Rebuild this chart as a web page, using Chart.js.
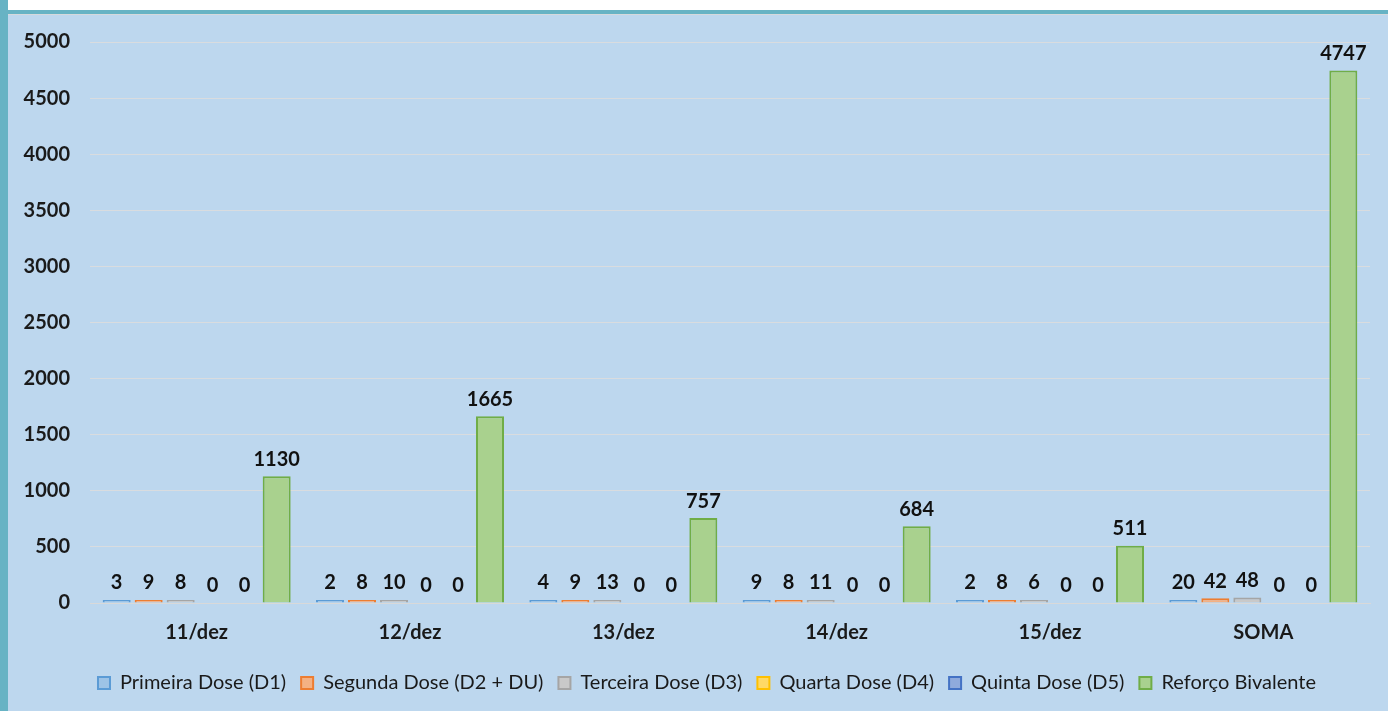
<!DOCTYPE html>
<html>
<head>
<meta charset="utf-8">
<script src="https://cdn.jsdelivr.net/npm/chart.js@4.4.0/dist/chart.umd.min.js"></script>
<style>
  html, body { margin:0; padding:0; background:#ffffff; width:1388px; height:711px; overflow:hidden; }
  #leftbar { position:absolute; left:0; top:0; width:8px; height:711px; background:#67b3c4; }
  #topbar { position:absolute; left:8px; top:10px; width:1380px; height:4px; background:#67b3c4; }
  #panel { position:absolute; left:8px; top:14px; width:1380px; height:697px; background:#bdd7ee; border-top:1px solid #d6d9dc; box-sizing:border-box; }
  #wrap { position:absolute; left:0; top:0; width:1380px; height:696px; }
</style>
</head>
<body>
<div id="leftbar"></div>
<div id="topbar"></div>
<div id="panel"><div id="wrap"><canvas id="c"></canvas></div></div>
<script>
const categories = ["11/dez", "12/dez", "13/dez", "14/dez", "15/dez", "SOMA"];
const seriesNames = ["Primeira Dose (D1)", "Segunda Dose (D2 + DU)", "Terceira Dose (D3)", "Quarta Dose (D4)", "Quinta Dose (D5)", "Reforço Bivalente"];
const primeiraDose = [3, 2, 4, 9, 2, 20];
const segundaDose = [9, 8, 9, 8, 8, 42];
const terceiraDose = [8, 10, 13, 11, 6, 48];
const quartaDose = [0, 0, 0, 0, 0, 0];
const quintaDose = [0, 0, 0, 0, 0, 0];
const reforcoBivalente = [1130, 1665, 757, 684, 511, 4747];
const yTicks = [0, 500, 1000, 1500, 2000, 2500, 3000, 3500, 4000, 4500, 5000];

const fills = ["#9dc3e6", "#f4b183", "#c9c9c9", "#ffd966", "#8faadc", "#a9d18e"];
const borders = ["#5b9bd5", "#ed7d31", "#a5a5a5", "#ffc000", "#4472c4", "#70ad47"];
const allData = [primeiraDose, segundaDose, terceiraDose, quartaDose, quintaDose, reforcoBivalente];

const FONT = "Lato, 'Open Sans', sans-serif";

const datasets = allData.map((d, i) => ({
  label: seriesNames[i],
  data: d,
  backgroundColor: fills[i],
  borderColor: borders[i],
  borderWidth: 2,
  minBarLength: (i < 3) ? 3 : 0,
  categoryPercentage: 0.9,
  barPercentage: 0.875
}));

const valueLabels = {
  id: 'valueLabels',
  afterDatasetsDraw(chart) {
    const ctx = chart.ctx;
    ctx.save();
    ctx.font = "bold 20px " + FONT;
    ctx.fillStyle = "#111111";
    ctx.textAlign = "center";
    ctx.textBaseline = "bottom";
    chart.data.datasets.forEach((ds, di) => {
      const meta = chart.getDatasetMeta(di);
      meta.data.forEach((el, i) => {
        const v = ds.data[i];
        ctx.fillText(String(v), el.x, Math.min(el.y, el.base) - 7);
      });
    });
    ctx.restore();
  }
};

const legendShift = {
  id: 'legendShift',
  afterLayout(chart) {
    if (chart.legend) {
      chart.legend.left += 18;
      chart.legend.right += 18;
    }
  }
};

new Chart(document.getElementById('c'), {
  type: 'bar',
  data: { labels: categories, datasets: datasets },
  plugins: [valueLabels, legendShift],
  options: {
    responsive: true,
    maintainAspectRatio: false,
    animation: false,
    layout: { padding: { top: 27, right: 18, left: 0, bottom: 8 } },
    plugins: {
      legend: {
        position: 'bottom',
        labels: {
          boxWidth: 12,
          boxHeight: 12,
          padding: 15,
          color: '#1a1a1a',
          font: { family: FONT, size: 20 },
          generateLabels(chart) {
            return chart.data.datasets.map((ds, i) => ({
              text: ds.label,
              fillStyle: fills[i],
              strokeStyle: borders[i],
              lineWidth: 2,
              datasetIndex: i,
              fontColor: '#1a1a1a'
            }));
          }
        }
      },
      tooltip: { enabled: false }
    },
    scales: {
      x: {
        grid: { display: false, drawTicks: false },
        border: { display: true, color: '#d9d9d9', width: 1 },
        ticks: { color: '#1a1a1a', font: { family: FONT, size: 20, weight: 'bold' }, padding: 18 },
        afterFit(scale) { scale.height = 55; scale.paddingLeft = 0; scale.paddingRight = 0; }
      },
      y: {
        min: 0,
        max: 5000,
        afterBuildTicks(scale) { scale.ticks = yTicks.map(v => ({ value: v })); },
        grid: { color: '#d9dcdf', lineWidth: 1, drawTicks: false },
        border: { display: false },
        ticks: {
          color: '#1a1a1a',
          font: { family: FONT, size: 20, weight: 'bold' },
          padding: 20,
          callback(value) { return String(value); }
        },
        afterFit(scale) { scale.width = 82; scale.paddingTop = 0; scale.paddingBottom = 0; }
      }
    }
  }
});
</script>
</body>
</html>
